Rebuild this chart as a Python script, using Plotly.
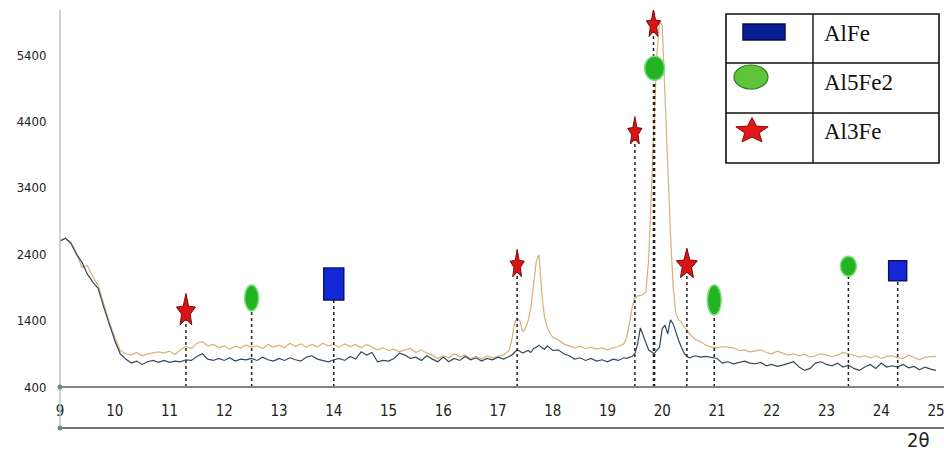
import math
import plotly.graph_objects as go

# ---------------- data ----------------
two_theta = [
    9.0, 9.1, 9.2, 9.3, 9.4, 9.5, 9.6, 9.7, 9.8, 9.9,
    10.0, 10.1, 10.2, 10.3, 10.4, 10.5, 10.6, 10.7, 10.8, 10.9,
    11.0, 11.1, 11.2, 11.3, 11.4, 11.5, 11.6, 11.7, 11.8, 11.9,
    12.0, 12.1, 12.2, 12.3, 12.4, 12.5, 12.6, 12.7, 12.8, 12.9,
    13.0, 13.1, 13.2, 13.3, 13.4, 13.5, 13.6, 13.7, 13.8, 13.9,
    14.0, 14.1, 14.2, 14.3, 14.4, 14.5, 14.6, 14.7, 14.8, 14.9,
    15.0, 15.1, 15.2, 15.3, 15.4, 15.5, 15.6, 15.7, 15.8, 15.9,
    16.0, 16.1, 16.2, 16.3, 16.4, 16.5, 16.6, 16.7, 16.8, 16.9,
    17.0, 17.1, 17.2, 17.25, 17.3, 17.35, 17.4, 17.45, 17.5, 17.55,
    17.6, 17.65, 17.7, 17.75, 17.8, 17.85, 17.9, 17.95, 18.0, 18.1,
    18.2, 18.3, 18.4, 18.5, 18.6, 18.7, 18.8, 18.9, 19.0, 19.1,
    19.2, 19.3, 19.35, 19.4, 19.45, 19.5, 19.55, 19.6, 19.65, 19.7,
    19.75, 19.8, 19.85, 19.9, 19.95, 20.0, 20.05, 20.1, 20.15, 20.2,
    20.25, 20.3, 20.35, 20.4, 20.45, 20.5, 20.6, 20.7, 20.8, 20.9,
    21.0, 21.1, 21.2, 21.3, 21.4, 21.5, 21.6, 21.7, 21.8, 21.9,
    22.0, 22.1, 22.2, 22.3, 22.4, 22.5, 22.6, 22.7, 22.8, 22.9,
    23.0, 23.1, 23.2, 23.3, 23.4, 23.5, 23.6, 23.7, 23.8, 23.9,
    24.0, 24.1, 24.2, 24.3, 24.4, 24.5, 24.6, 24.7, 24.8, 24.9,
    25.0,
]

intensity_dark = [
    2600, 2640, 2560, 2400, 2280, 2100, 1980, 1880, 1600, 1350,
    1100, 900, 820, 760, 790, 740, 780, 800, 770, 800,
    770, 790, 780, 810, 800, 860, 900, 820, 800, 830,
    800, 840, 790, 820, 810, 830, 800, 850, 810, 790,
    830, 800, 840, 810, 790, 850, 870, 820, 800, 780,
    810, 830, 800, 860, 820, 930, 880, 920, 780, 800,
    790, 830, 910, 880, 830, 850, 800, 870, 820, 780,
    850, 780, 830, 800, 860, 810, 840, 790, 830, 810,
    850, 820, 860, 880, 920, 960, 940, 910, 930, 950,
    920, 980, 1000, 1030, 990, 970, 1020, 990, 950, 960,
    900, 870, 820, 840, 800, 830, 790, 810, 780, 820,
    800, 840, 830, 850, 860, 900, 1050, 1290, 1180, 1050,
    960, 930, 900, 950, 1000, 1280, 1330, 1200, 1410, 1350,
    1210, 1100, 1000, 910, 860, 840, 870, 850, 860, 840,
    830, 760, 780, 750, 770, 790, 760, 750, 770, 720,
    740, 710, 730, 760, 780, 700, 650, 680, 760, 780,
    740, 720, 760, 700, 730, 680, 650, 700, 740, 680,
    760, 700, 720, 700, 740, 690, 710, 660, 700, 670,
    650,
]

intensity_orange = [
    2600, 2640, 2580, 2420, 2200, 2230, 2060, 1920, 1650, 1380,
    1150, 950, 900, 880, 920, 870, 900, 920, 930, 910,
    940, 890, 960, 1010, 980, 1060, 1080, 1020, 1040, 990,
    1020, 970, 1010, 990, 1030, 1000, 1020, 980, 1040, 1000,
    1030, 990, 1060, 1010, 1050, 1000, 1040, 1000, 1060, 1020,
    1040, 1000, 1050, 1010, 1040, 990, 1040, 1000, 960, 990,
    950, 970, 930, 960, 980, 920, 960, 910, 880, 830,
    870, 840, 900, 850, 880, 830, 860, 820, 870, 840,
    860, 880, 950, 1100, 1350, 1440, 1400, 1230, 1280, 1400,
    1600, 1950, 2300, 2390, 1800, 1450, 1300, 1210, 1150, 1110,
    1050, 1020, 990, 1010, 980, 1000, 970, 990, 960, 990,
    1010, 1050, 1150, 1350, 1600, 1740, 1770, 1780, 1790, 1830,
    2300, 3300, 4500, 5400, 5900, 5850, 4800, 3700, 2700, 1900,
    1500, 1410, 1380, 1300, 1260, 1200, 1120, 1080, 1030, 1000,
    990, 1010, 1000, 990, 950, 960, 930, 940, 960, 920,
    900, 940, 910, 880, 900, 870, 890, 850, 870, 900,
    880, 860, 880, 920, 900, 880, 850, 870, 840, 870,
    830, 860, 870, 840, 830, 880, 840, 810, 850, 860,
    860,
]

phase_names = ["AlFe", "Al5Fe2", "Al3Fe"]

alfe_x = [14.0, 24.3]
alfe_y = [1950, 2150]

al5fe2_x = [12.5, 19.86, 20.95, 23.4]
al5fe2_y = [1740, 5200, 1710, 2220]

al3fe_x = [11.3, 17.35, 19.5, 19.84, 20.45]
al3fe_y = [1530, 2230, 4230, 5850, 2230]

x_ticks = list(range(9, 26))
y_ticks = [400, 1400, 2400, 3400, 4400, 5400]

# ---------------- layout geometry ----------------
W, H = 944, 454
L, R, T, B = 60, 0, 10, 67
PW, PH = W - L - R, H - T - B
X0, XPX = 9.0, 54.75           # px per degree
Y0, YTOP = 400, 6078
x_max = X0 + PW / XPX


def px(xp):
    return (xp - L) / PW


def py(yp):
    return (H - B - yp) / PH


def star_path(w, h, inner=0.42, top_extra=1.0):
    pts = []
    for i in range(10):
        ang = math.pi / 2 + i * math.pi / 5
        r = 1.0 if i % 2 == 0 else inner
        sx = r * math.cos(ang) * w / 2
        sy = r * math.sin(ang) * h / 2
        if i == 0:
            sy *= top_extra
        pts.append((sx, sy))
    return "M " + " L ".join(f"{a:.2f},{b:.2f}" for a, b in pts) + " Z"


fig = go.Figure()

fig.add_trace(go.Scatter(x=two_theta, y=intensity_orange, mode="lines",
                         line=dict(color="#d9b07a", width=1.2),
                         showlegend=False, hoverinfo="skip"))
fig.add_trace(go.Scatter(x=two_theta, y=intensity_dark, mode="lines",
                         line=dict(color="#34485a", width=1.2),
                         showlegend=False, hoverinfo="skip"))

# drop lines
dx, dy = [], []
for xs, ys in ((alfe_x, alfe_y), (al5fe2_x, al5fe2_y), (al3fe_x, al3fe_y)):
    for xv, yv in zip(xs, ys):
        dx += [xv, xv, None]
        dy += [Y0, yv, None]
fig.add_trace(go.Scatter(x=dx, y=dy, mode="lines",
                         line=dict(color="#222222", width=1.5, dash="dot"),
                         showlegend=False, hoverinfo="skip"))

shapes = []

# AlFe rectangles
alfe_sizes = [(20, 32), (18, 20)]
for xv, yv, (w, h) in zip(alfe_x, alfe_y, alfe_sizes):
    shapes.append(dict(type="rect", xref="x", yref="y", xsizemode="pixel", ysizemode="pixel",
                       xanchor=xv, yanchor=yv, x0=-w / 2, x1=w / 2, y0=-h / 2, y1=h / 2,
                       fillcolor="#1428d8", line=dict(color="#0a1470", width=1.5), layer="above"))

# Al5Fe2 ellipses
al5_sizes = [(14, 26), (20, 24), (14, 30), (16, 20)]
for xv, yv, (w, h) in zip(al5fe2_x, al5fe2_y, al5_sizes):
    shapes.append(dict(type="circle", xref="x", yref="y", xsizemode="pixel", ysizemode="pixel",
                       xanchor=xv, yanchor=yv, x0=-w / 2, x1=w / 2, y0=-h / 2, y1=h / 2,
                       fillcolor="#22b422", line=dict(color="#7ee07e", width=1.5), layer="above"))

# Al3Fe stars
al3_sizes = [(20, 32), (15, 28), (15, 28), (15, 28), (22, 30)]
for xv, yv, (w, h) in zip(al3fe_x, al3fe_y, al3_sizes):
    shapes.append(dict(type="path", xref="x", yref="y", xsizemode="pixel", ysizemode="pixel",
                       xanchor=xv, yanchor=yv, path=star_path(w, h, 0.45, 1.15),
                       fillcolor="#d81414", line=dict(color="#7a0a0a", width=1), layer="above"))

# axis lines
shapes.append(dict(type="line", xref="paper", yref="paper", x0=0, x1=1, y0=0, y1=0,
                   line=dict(color="#7d8787", width=2)))
shapes.append(dict(type="line", xref="paper", yref="paper", x0=0, x1=1, y0=py(428), y1=py(428),
                   line=dict(color="#6e7878", width=2)))
shapes.append(dict(type="line", xref="paper", yref="paper", x0=0, x1=0, y0=py(430), y1=1,
                   line=dict(color="#b9c9c9", width=1.5)))
for yy in (387, 428):
    shapes.append(dict(type="circle", xref="paper", yref="paper", xsizemode="pixel", ysizemode="pixel",
                       xanchor=0, yanchor=py(yy), x0=-2.5, x1=2.5, y0=-2.5, y1=2.5,
                       fillcolor="#5f8f8f", line=dict(width=0)))

# legend table
lx0, lx1, ly0, ly1 = 726, 939, 14, 163
shapes.append(dict(type="rect", xref="paper", yref="paper", x0=px(lx0), x1=px(lx1), y0=py(ly1), y1=py(ly0),
                   fillcolor="white", line=dict(color="#111111", width=1.6), layer="above"))
for yy in (63, 113):
    shapes.append(dict(type="line", xref="paper", yref="paper", x0=px(lx0), x1=px(lx1), y0=py(yy), y1=py(yy),
                       line=dict(color="#111111", width=1.4), layer="above"))
shapes.append(dict(type="line", xref="paper", yref="paper", x0=px(813), x1=px(813), y0=py(ly1), y1=py(ly0),
                   line=dict(color="#111111", width=1.4), layer="above"))
# legend symbols
shapes.append(dict(type="rect", xref="paper", yref="paper", xsizemode="pixel", ysizemode="pixel",
                   xanchor=px(764), yanchor=py(32), x0=-21, x1=21, y0=-8, y1=8,
                   fillcolor="#0a1c96", line=dict(color="#06104f", width=1.5), layer="above"))
shapes.append(dict(type="circle", xref="paper", yref="paper", xsizemode="pixel", ysizemode="pixel",
                   xanchor=px(751), yanchor=py(77), x0=-17, x1=17, y0=-12, y1=12,
                   fillcolor="#5ec43a", line=dict(color="#2f7a20", width=1.2), layer="above"))
shapes.append(dict(type="path", xref="paper", yref="paper", xsizemode="pixel", ysizemode="pixel",
                   xanchor=px(752), yanchor=py(131), path=star_path(34, 27, 0.45, 1.0),
                   fillcolor="#e01818", line=dict(color="#8a1010", width=1), layer="above"))

annotations = []
for name, yy in zip(phase_names, (33, 82, 131)):
    annotations.append(dict(text=name, xref="paper", yref="paper", x=px(822), y=py(yy),
                            xanchor="left", yanchor="middle", showarrow=False,
                            font=dict(family="Liberation Serif, Times New Roman, serif", size=23, color="#111111")))
annotations.append(dict(text="2θ", xref="paper", yref="paper", x=px(918), y=py(440),
                        xanchor="center", yanchor="middle", showarrow=False,
                        font=dict(family="Liberation Sans Narrow, DejaVu Sans Condensed, Arial Narrow, sans-serif",
                                  size=20, color="#222222")))

tick_font = "Liberation Sans Narrow, DejaVu Sans Condensed, Arial Narrow, sans-serif"

fig.update_layout(
    width=W, height=H,
    margin=dict(l=L, r=R, t=T, b=B, pad=0),
    paper_bgcolor="white", plot_bgcolor="white",
    showlegend=False,
    shapes=shapes,
    annotations=annotations,
    xaxis=dict(range=[X0, x_max], tickvals=x_ticks, ticktext=[str(t) for t in x_ticks],
               showgrid=False, zeroline=False, showline=False,
               ticks="outside", ticklen=10, tickcolor="rgba(0,0,0,0)",
               ticklabeloverflow="allow",
               tickfont=dict(family=tick_font, size=15, color="#222222")),
    yaxis=dict(range=[Y0, YTOP], tickvals=y_ticks, ticktext=[str(t) for t in y_ticks],
               showgrid=False, zeroline=False, showline=False,
               ticks="outside", ticklen=10, tickcolor="rgba(0,0,0,0)",
               tickfont=dict(family=tick_font, size=13, color="#222222")),
)

fig.write_html("out.html",
               config={"displayModeBar": False},
               post_script="document.body.style.margin='0';document.body.style.overflow='hidden';")
